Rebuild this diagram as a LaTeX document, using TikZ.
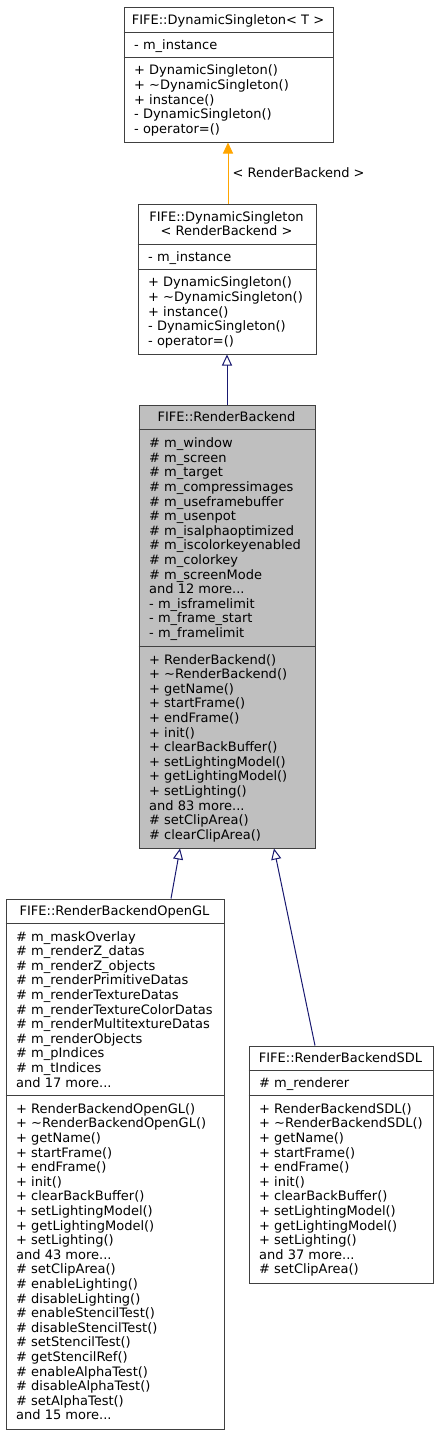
\documentclass[tikz,border=0pt]{standalone}
\usepackage{fontspec}
\setmainfont{DejaVu Sans}
\usetikzlibrary{arrows.meta}
\definecolor{bord}{HTML}{404040}
\definecolor{inhc}{HTML}{191970}
\definecolor{tmplc}{HTML}{FFA500}
\definecolor{fillg}{HTML}{BFBFBF}
\tikzset{
 cls/.style={draw=bord, line width=1pt, fill=white, inner sep=0pt, anchor=north west},
 sepline/.style={draw=bord, line width=1pt},
 txt/.style={font=\fontsize{13}{14.6}\selectfont, inner sep=0pt, anchor=base west},
 ttl/.style={txt, anchor=base},
 inh/.style={color=inhc, line width=1pt, -{Triangle[open, length=11pt, width=10pt]}},
 tmpl/.style={color=tmplc, line width=1pt, -{Triangle[length=11pt, width=10pt]}},
}
\newcommand\mdots{...}
% #1 prefix, #2 left x, #3 top, #4 height, #5 count, #6 list
\newcommand\seclines[6]{%
  \foreach \t [count=\i] in {#6} {%
    \node[txt] (#1\i) at ({#2+10.5}, {#3 + (#4 - #5*14.6)/2 + 14.6*(\i-0.5) + 4.6}) {\t};
  }%
}
% #1 prefix, #2 center x, #3 top, #4 height, #5 count, #6 list
\newcommand\titlelines[6]{%
  \foreach \t [count=\i] in {#6} {%
    \node[ttl] (#1\i) at ({#2}, {#3 + (#4 - #5*14.6)/2 + 14.6*(\i-0.5) + 4.6}) {\t};
  }%
}
\begin{document}
\begin{tikzpicture}[x=1pt,y=-1pt]
\useasboundingbox (0,0) rectangle (437,1435);
\begin{scope}[shift={(0.5,0.5)}]
% ---- FIFE::DynamicSingleton< T >
\node[cls, minimum width=209pt, minimum height=135pt] (dsT) at (123,6) {};
\draw[sepline] (123,32) -- (332,32);
\draw[sepline] (123,57) -- (332,57);
\titlelines{dsTt}{227.5}{6}{26}{1}{FIFE::DynamicSingleton< T >}
\seclines{dsTa}{123}{32}{25}{1}{- m\_instance}
\seclines{dsTm}{123}{57}{84}{5}{+ DynamicSingleton(), + \textasciitilde DynamicSingleton(), + instance(), - DynamicSingleton(), - operator=()}

% ---- FIFE::DynamicSingleton< RenderBackend >
\node[cls, minimum width=178pt, minimum height=150pt] (dsR) at (137,203) {};
\draw[sepline] (137,244) -- (315,244);
\draw[sepline] (137,269) -- (315,269);
\titlelines{dsRt}{226}{203}{41}{2}{FIFE::DynamicSingleton, < RenderBackend >}
\seclines{dsRa}{137}{244}{25}{1}{- m\_instance}
\seclines{dsRm}{137}{269}{84}{5}{+ DynamicSingleton(), + \textasciitilde DynamicSingleton(), + instance(), - DynamicSingleton(), - operator=()}

% ---- FIFE::RenderBackend
\node[cls, fill=fillg, minimum width=176pt, minimum height=443pt] (rb) at (138,404) {};
\draw[sepline] (138,429) -- (314,429);
\draw[sepline] (138,646) -- (314,646);
\titlelines{rbt}{226}{404}{25}{1}{FIFE::RenderBackend}
\seclines{rba}{138}{429}{217}{14}{\# m\_window, \# m\_screen, \# m\_target, \# m\_compressimages, \# m\_useframebuffer, \# m\_usenpot, \# m\_isalphaoptimized, \# m\_iscolorkeyenabled, \# m\_colorkey, \# m\_screenMode, and 12 more\mdots, - m\_isframelimit, - m\_frame\_start, - m\_framelimit}
\seclines{rbm}{138}{646}{201}{13}{+ RenderBackend(), + \textasciitilde RenderBackend(), + getName(), + startFrame(), + endFrame(), + init(), + clearBackBuffer(), + setLightingModel(), + getLightingModel(), + setLighting(), and 83 more\mdots, \# setClipArea(), \# clearClipArea()}

% ---- FIFE::RenderBackendOpenGL
\node[cls, minimum width=218pt, minimum height=530pt] (ogl) at (5,898) {};
\draw[sepline] (5,923) -- (223,923);
\draw[sepline] (5,1095) -- (223,1095);
\titlelines{oglt}{114}{898}{25}{1}{FIFE::RenderBackendOpenGL}
\seclines{ogla}{5}{923}{172}{11}{\# m\_maskOverlay, \# m\_renderZ\_datas, \# m\_renderZ\_objects, \# m\_renderPrimitiveDatas, \# m\_renderTextureDatas, \# m\_renderTextureColorDatas, \# m\_renderMultitextureDatas, \# m\_renderObjects, \# m\_pIndices, \# m\_tIndices, and 17 more\mdots}
\seclines{oglm}{5}{1095}{333}{22}{+ RenderBackendOpenGL(), + \textasciitilde RenderBackendOpenGL(), + getName(), + startFrame(), + endFrame(), + init(), + clearBackBuffer(), + setLightingModel(), + getLightingModel(), + setLighting(), and 43 more\mdots, \# setClipArea(), \# enableLighting(), \# disableLighting(), \# enableStencilTest(), \# disableStencilTest(), \# setStencilTest(), \# getStencilRef(), \# enableAlphaTest(), \# disableAlphaTest(), \# setAlphaTest(), and 15 more\mdots}

% ---- FIFE::RenderBackendSDL
\node[cls, minimum width=184pt, minimum height=237pt] (sdl) at (248,1045) {};
\draw[sepline] (248,1070) -- (432,1070);
\draw[sepline] (248,1095) -- (432,1095);
\titlelines{sdlt}{340}{1045}{25}{1}{FIFE::RenderBackendSDL}
\seclines{sdla}{248}{1070}{25}{1}{\# m\_renderer}
\seclines{sdlm}{248}{1095}{187}{12}{+ RenderBackendSDL(), + \textasciitilde RenderBackendSDL(), + getName(), + startFrame(), + endFrame(), + init(), + clearBackBuffer(), + setLightingModel(), + getLightingModel(), + setLighting(), and 37 more\mdots, \# setClipArea()}

% ---- connectors
\draw[tmpl] ([xshift=1pt]dsR.north) -- ([xshift=1pt]dsT.south -| dsR.north);
\node[txt] (lbl) at (232,176.6) {< RenderBackend >};
\draw[inh] (rb.north) -- (dsR.south);
\draw[inh] ([xshift=56pt]ogl.north) -- ([xshift=-47pt]rb.south);
\draw[inh] ([xshift=-26pt]sdl.north) -- ([xshift=47pt]rb.south);
\end{scope}
\end{tikzpicture}
\end{document}
